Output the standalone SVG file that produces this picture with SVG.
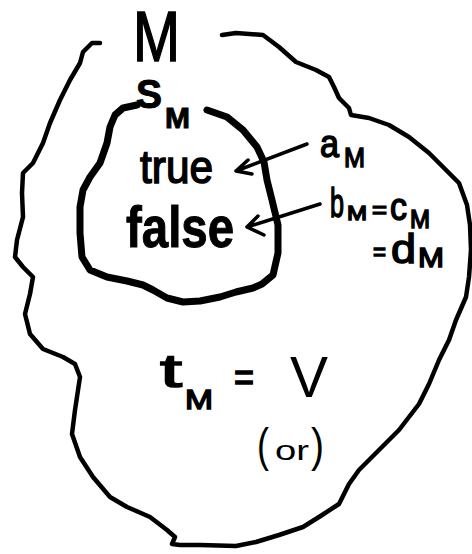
<svg xmlns="http://www.w3.org/2000/svg" width="472" height="554" viewBox="0 0 472 554">
<style>
.ln{fill:none;stroke:#000;stroke-linecap:round;stroke-linejoin:round}
.o{stroke-width:4.5}
.i{stroke-width:7}
.a{stroke-width:3.5}
text{font-family:"Liberation Sans","DejaVu Sans",sans-serif;fill:#000}
.h{stroke:#000;stroke-width:1.5}
.hb{font-weight:bold;stroke:#000;stroke-width:1}
</style>
<rect width="472" height="554" fill="#fff"/>
<g id="outer">
<path class="ln o" d="M100,43 L92,43 L83,52 L80,63 L70,80 L60,100 L50,123 L43,143 L33,163 L23,173 L22,193 L23,217 L17,240 L15,257 L23,267 L33,277 L30,294 L25,314 L30,334 L43,349 L63,357 L75,364 L80,377 L75,410 L72,434 L80,457 L93,477 L110,497 L127,507 L150,517 L167,530 L175,537 L172,544 L180,545 L200,545 L236,546 L256,542 L279,535 L303,527 L319,517 L339,504 L349,484 L359,470 L379,450 L399,430 L419,404 L429,384 L439,360 L449,340 L456,320 L466,297 L469,277 L471,250 L470,225 L467,205 L459,183 L446,170 L429,153 L409,137 L389,125 L369,118 L351,115 L349,108 L339,98 L334,87 L329,77 L316,70 L296,62 L279,47 L263,35 L236,33 L222,35"/>
</g>
<g id="inner">
<path class="ln i" d="M207,110 L227,117 L243,130 L257,147 L264,162 L267,180 L272,200 L278,225 L278,253 L273,275 L262,284 L253,288 L236,292 L220,297 L200,301 L183,302 L167,298 L153,290 L143,285 L127,281 L107,277 L90,270 L82,257 L80,233 L80,207 L83,190 L90,177 L100,163 L107,143 L110,127 L115,115 L123,108 L137,105"/>
</g>
<g id="connectors">
<path class="ln a" d="M307,144 L236,171 M248,160 L236,171 L252,174"/>
<path class="ln a" d="M320,204 L247,227 M258,216 L247,227 L264,235"/>
</g>
<g id="label-M"><text class="h" x="133" y="61" font-size="70" textLength="47" lengthAdjust="spacingAndGlyphs">M</text></g>
<g id="label-SM">
<text class="hb" x="136" y="108" font-size="40" textLength="26" lengthAdjust="spacingAndGlyphs">S</text>
<text class="hb" x="165" y="128" font-size="30" textLength="25" lengthAdjust="spacingAndGlyphs">M</text>
</g>
<g id="label-true"><text class="h" x="140" y="183" font-size="46" textLength="73" lengthAdjust="spacingAndGlyphs">true</text></g>
<g id="label-false"><text class="hb" x="126" y="247" font-size="58" textLength="108" lengthAdjust="spacingAndGlyphs">false</text></g>
<g id="label-aM">
<text class="h" x="320" y="157" font-size="38" textLength="19" lengthAdjust="spacingAndGlyphs">a</text>
<text class="h" x="344" y="167" font-size="28" textLength="21" lengthAdjust="spacingAndGlyphs">M</text>
</g>
<g id="label-bM">
<text class="h" x="330" y="217" font-size="40" textLength="14" lengthAdjust="spacingAndGlyphs">b</text>
<text class="h" x="347" y="220" font-size="21" textLength="20" lengthAdjust="spacingAndGlyphs">M</text>
<text class="h" x="372" y="218" font-size="24" textLength="15" lengthAdjust="spacingAndGlyphs">=</text>
<text class="h" x="390" y="220" font-size="38" textLength="17" lengthAdjust="spacingAndGlyphs">c</text>
<text class="h" x="410" y="228" font-size="25" textLength="20" lengthAdjust="spacingAndGlyphs">M</text>
<text class="h" x="373" y="260" font-size="26" textLength="13" lengthAdjust="spacingAndGlyphs">=</text>
<text class="h" x="391" y="263" font-size="41" textLength="25" lengthAdjust="spacingAndGlyphs">d</text>
<text class="h" x="418" y="267" font-size="28" textLength="26" lengthAdjust="spacingAndGlyphs">M</text>
</g>
<g id="label-tM">
<text class="h" x="160" y="387" font-size="46" textLength="22" lengthAdjust="spacingAndGlyphs">t</text>
<text class="h" x="185" y="409" font-size="28" textLength="28" lengthAdjust="spacingAndGlyphs">M</text>
<text class="h" x="234" y="391" font-size="40" textLength="20" lengthAdjust="spacingAndGlyphs">=</text>
<text x="290" y="397" font-size="58" textLength="38" lengthAdjust="spacingAndGlyphs">V</text>
</g>
<g id="label-or">
<text x="257" y="461" font-size="46" textLength="12" lengthAdjust="spacingAndGlyphs">(</text>
<text x="275" y="460" font-size="28" textLength="34" lengthAdjust="spacingAndGlyphs">or</text>
<text x="311" y="461" font-size="46" textLength="13" lengthAdjust="spacingAndGlyphs">)</text>
</g>
</svg>
